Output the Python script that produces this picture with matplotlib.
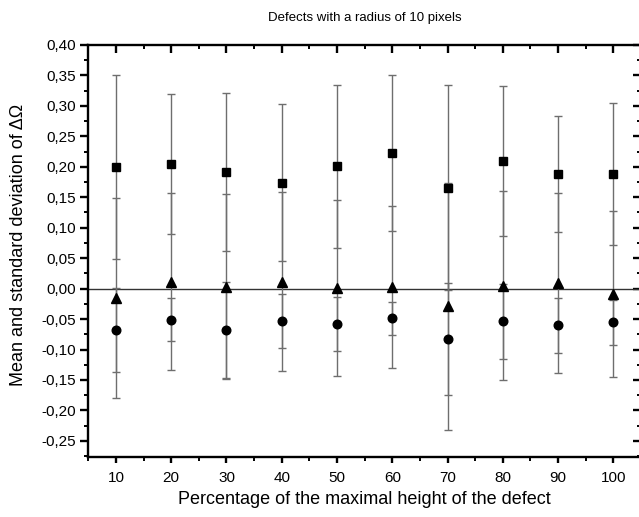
import matplotlib
matplotlib.use("Agg")
import matplotlib.pyplot as plt
from matplotlib.ticker import MultipleLocator, FuncFormatter

x = [10, 20, 30, 40, 50, 60, 70, 80, 90, 100]

sq_mean = [0.199, 0.205, 0.191, 0.174, 0.201, 0.223, 0.166, 0.209, 0.188, 0.188]
sq_sd = [0.151, 0.115, 0.130, 0.129, 0.134, 0.128, 0.169, 0.123, 0.095, 0.117]

tri_mean = [-0.016, 0.0115, 0.003, 0.0115, 0.001, 0.003, -0.029, 0.0045, 0.009, -0.009]
tri_sd = [0.164, 0.145, 0.152, 0.147, 0.144, 0.133, 0.203, 0.155, 0.148, 0.136]

circ_mean = [-0.068, -0.051, -0.068, -0.053, -0.058, -0.049, -0.082, -0.054, -0.060, -0.055]
circ_sd = [0.069, 0.035, 0.079, 0.044, 0.044, 0.027, 0.092, 0.062, 0.045, 0.037]

title = "Defects with a radius of 10 pixels"
xlabel = "Percentage of the maximal height of the defect"
ylabel = "Mean and standard deviation of \u0394\u03a9"

plt.rcParams['font.family'] = ['Liberation Sans', 'DejaVu Sans']

fig = plt.figure(figsize=(6.39, 5.17), dpi=100)
W, H = 639, 517
left, right, top, bottom = 88.3, 641, 45, 456.7
ax = fig.add_axes([left / W, 1 - bottom / H, (right - left) / W, (bottom - top) / H])

ax.axhline(0, color='#333333', lw=1.0, zorder=1)

eb_kw = dict(ecolor='#6e6e6e', elinewidth=1.0, capsize=3.2, capthick=1.0,
             linestyle='none', color='black', zorder=3)
ax.errorbar(x, sq_mean, yerr=sq_sd, marker='s', markersize=5.8, **eb_kw)
ax.errorbar(x, tri_mean, yerr=tri_sd, marker='^', markersize=7.2, **eb_kw)
ax.errorbar(x, circ_mean, yerr=circ_sd, marker='o', markersize=6.2, **eb_kw)

ax.set_xlim(5, 105)
ax.set_ylim(-0.276, 0.40)

ax.xaxis.set_major_locator(MultipleLocator(10))
ax.xaxis.set_minor_locator(MultipleLocator(5))
ax.yaxis.set_major_locator(MultipleLocator(0.05))
ax.yaxis.set_minor_locator(MultipleLocator(0.025))
ax.yaxis.set_major_formatter(FuncFormatter(lambda v, p: f"{v:.2f}".replace('.', ',').replace('-0,00', '0,00')))

for s in ['left', 'bottom', 'top']:
    ax.spines[s].set_linewidth(1.7)
ax.spines['right'].set_visible(False)

ax.tick_params(axis='x', which='major', direction='out', length=4.5, width=1.7,
               labelsize=11, pad=6)
ax.tick_params(axis='y', which='major', direction='out', length=6, width=1.7,
               labelsize=11, pad=2.5)
ax.tick_params(axis='both', which='minor', direction='out', length=3, width=1.4)
ax.tick_params(top=False, right=False, which='both')

secx = ax.secondary_xaxis('top')
secx.xaxis.set_major_locator(MultipleLocator(10))
secx.xaxis.set_minor_locator(MultipleLocator(5))
secx.tick_params(which='major', direction='in', length=6, width=1.7, labeltop=False)
secx.tick_params(which='minor', direction='in', length=3, width=1.4)
secx.spines['top'].set_visible(False)

secy = ax.secondary_yaxis('right')
secy.yaxis.set_major_locator(MultipleLocator(0.05))
secy.yaxis.set_minor_locator(MultipleLocator(0.025))
secy.tick_params(which='major', direction='in', length=6, width=1.7, labelright=False)
secy.tick_params(which='minor', direction='in', length=3, width=1.4)
secy.spines['right'].set_visible(False)

fig.text((left + 641) / 2 / W, 1 - 18 / H, title, ha='center', va='center', fontsize=9.5)
fig.text((left + 641) / 2 / W, 1 - 500 / H, xlabel, ha='center', va='center', fontsize=13)
fig.text(19 / W, 1 - 245 / H, ylabel, ha='center', va='center', rotation=90, fontsize=13)

fig.savefig("out.png", dpi=100)
